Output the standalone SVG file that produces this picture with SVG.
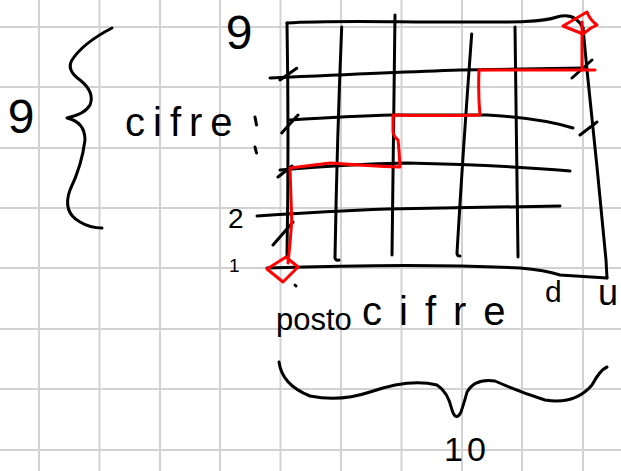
<svg xmlns="http://www.w3.org/2000/svg" width="621" height="471" viewBox="0 0 621 471">
<style>
.grid{stroke:#d2d2d2;stroke-width:2;fill:none}
.ink{stroke:#000;stroke-width:3;fill:none;stroke-linecap:round;stroke-linejoin:round}
.red{stroke:#ff0000;stroke-width:3;fill:none;stroke-linecap:round;stroke-linejoin:round}
.t{font-family:"Liberation Sans",Arial,sans-serif;fill:#000}
</style>
<rect width="621" height="471" fill="#fff"/>
<g id="paper-grid" class="grid">
<path d="M39,0V471M99.5,0V471M160,0V471M220,0V471M280.5,0V471M341,0V471M401.5,0V471M462,0V471M522,0V471M583,0V471"/>
<path d="M0,27H621M0,87H621M0,148H621M0,208H621M0,268H621M0,329H621M0,389H621M0,450H621"/>
</g>
<g id="left-brace">
<path class="ink" d="M112,28 Q83,43 72,60 Q66,70 80,80 Q95,92 90,105 Q85,114 67,118 Q85,122 85,140 Q82,165 70,190 Q62,212 80,222 Q90,228 102,228"/>
<text class="t" x="21" y="133" font-size="48" text-anchor="middle">9</text>
<text class="t" x="125" y="136" font-size="40" letter-spacing="8">cifre</text>
<path class="ink" d="M255,117 L256.5,125 M255,147 L256.5,153"/>
</g>
<g id="axis-labels">
<text class="t" x="239" y="49" font-size="48" text-anchor="middle">9</text>
<text class="t" x="228" y="228" font-size="28">2</text>
<text class="t" x="229" y="272" font-size="19">1</text>
<text class="t" x="545" y="302" font-size="30">d</text>
<text class="t" x="598" y="305" font-size="36">u</text>
</g>
<g id="grid-table">
<path class="ink" d="M287,23 C330,20 393,22 450,22 S540,23 557,17 C567,14 577,16 583,28"/>
<path class="ink" d="M287,23 Q289,140 287,255"/>
<path class="ink" d="M583,28 L587,70 L597,167 L606,260 L607,278"/>
<path class="ink" d="M267,268 Q420,263 520,268 Q545,270 560,275 L607,278"/>
<path class="ink" d="M341.7,27 Q337,140 335,258 Q336,261 339,260"/>
<path class="ink" d="M395,15 Q393,140 392,255"/>
<path class="ink" d="M471.7,34 Q463,150 457,253 Q457,256 460,256"/>
<path class="ink" d="M515,27 Q516,140 518,257"/>
<path class="ink" d="M270,78 Q400,72 460,70 L583,68"/>
<path class="ink" d="M290,120 Q350,116 393,115 L487,115 Q540,118 573,128"/>
<path class="ink" d="M280,170 Q350,164 407,163 Q500,165 570,171"/>
<path class="ink" d="M257,216 Q330,211 387,209 L560,206"/>
<path class="ink" d="M280,80 L296.7,68.3 M281.7,133 L298,115 M278,177 L292,166 M273,245 L293,222 M572,78 L592,60 M580,135 L597,122"/>
<path class="ink" d="M295,285 L296,286"/>
</g>
<g id="path-red">
<path class="red" d="M288,263 Q291,235 291.7,220 L290,168 L330,163 Q370,166 400,167 Q399,148 398,140 Q393,136 393,131 L393,115 Q440,116 480,115 Q478,95 479,70 L595,70"/>
<path class="red" d="M582,70 L582,22"/>
<path class="red" d="M563,26 L587,12 Q590,20 597,25 L591,28 L583,34 Z"/>
<path class="red" d="M267,269 L286,257 L298,267 L283,282 Z"/>
</g>
<g id="bottom-label">
<text class="t" x="276" y="330" font-size="31">posto</text>
<text class="t" x="362" y="325" font-size="40" letter-spacing="17">cifre</text>
<path class="ink" d="M279,362 Q282,385 310,396 Q340,402 370,392 Q410,378 437,385 Q448,392 452,410 Q456,422 461,412 Q465,400 467,392 Q475,378 495,381 Q520,392 545,400 Q575,405 592,385 Q600,370 607,367"/>
<text class="t" x="444" y="461" font-size="34" letter-spacing="4">10</text>
</g>
</svg>
